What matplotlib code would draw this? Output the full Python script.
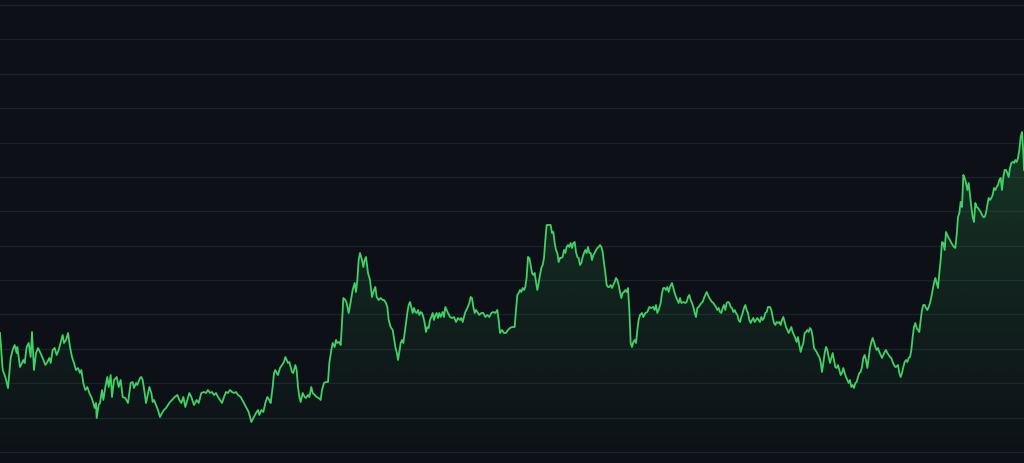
import numpy as np
import matplotlib
matplotlib.use("Agg")
import matplotlib.pyplot as plt
from matplotlib.patches import Polygon

days = [
    0, 4, 8, 12, 16, 19, 22, 25, 26, 28, 30, 33, 35, 37, 40, 43, 46, 48, 51, 54,
    57, 60, 64, 68, 71, 74, 76, 79, 82, 85, 88, 92, 94, 96, 99, 102, 105, 108, 111, 114,
    117, 120, 122, 125, 128, 131, 134, 137, 140, 142, 144, 145, 148, 150, 153, 155, 158, 161, 163, 166,
    168, 171, 175, 178, 181, 184, 188,
    192, 196, 199, 201, 204, 206, 210, 212, 214, 217, 219, 221, 224, 227, 229, 231, 234, 237, 240, 243,
    246, 249, 252, 255, 258, 262, 266, 269, 272, 275, 278, 281, 284, 287, 291, 295, 298, 302, 306, 309,
    312, 315, 318, 321, 324, 327, 330, 333, 336, 339, 342, 345, 348, 351, 354, 357, 361, 365, 369, 373,
    377, 380,
    384, 387, 389, 392, 395, 398, 401, 404, 406, 409, 411, 413, 415, 417, 420, 423, 426, 428, 430, 432,
    434, 436, 438, 440, 443, 445, 447, 449, 451, 454, 457, 459, 462, 464, 467, 469, 472, 475, 478, 481,
    483, 486, 489, 492, 494, 497, 499, 502, 504, 506, 509, 511, 513, 515, 518, 520, 523, 526, 529, 532,
    534, 536, 538, 540, 543, 545, 547, 549, 552, 555, 558, 561, 563, 565, 568, 571, 574,
    576, 579, 581, 583, 586, 589, 591, 593, 595, 597, 599, 601, 603, 605, 607, 609, 611, 613, 615, 617,
    619, 621, 623, 625, 627, 629, 631, 633, 635, 637, 639, 641, 643, 645, 647, 649, 651, 653, 655, 657,
    659, 661, 664, 666, 668, 670, 672, 675, 678, 681, 684, 687, 690, 692, 694, 696, 698, 701, 704, 706,
    708, 710, 712, 714, 716, 719, 722, 725, 728, 731, 734, 737, 740, 743, 746, 748, 750, 753, 756, 759,
    762, 765,
    768, 772, 774, 776, 778, 780, 782, 784, 786, 788, 790, 792, 794, 796, 798, 800, 802, 804, 806, 808,
    810, 812, 814, 816, 818, 820, 823, 826, 828, 830, 832, 834, 836, 838, 840, 842, 844, 846, 848, 850,
    852, 854, 856, 858, 860, 862, 864, 866, 868, 870, 872, 874, 876, 878, 880, 882, 884, 886, 888, 890,
    892, 894, 896, 898, 900, 902, 904, 906, 908, 910, 912, 914, 916, 918, 920, 922, 924, 926, 928, 930,
    932, 934, 936, 938, 940, 942, 944, 946, 948, 950, 952, 954, 956, 958,
    960, 963, 965, 968, 971, 974, 977, 980, 982, 984, 986, 988, 991, 993, 995, 997, 999, 1001, 1003, 1005,
    1008, 1010, 1012, 1014, 1016, 1018, 1020, 1022, 1025, 1028, 1030, 1032, 1034, 1036, 1038, 1040, 1042, 1044, 1046, 1048,
    1050, 1052, 1054, 1056, 1058, 1060, 1062, 1064, 1066, 1068, 1070, 1072, 1074, 1076, 1078, 1080, 1082, 1084, 1086, 1088,
    1090, 1092, 1094, 1096, 1098, 1100, 1102, 1104, 1106, 1108, 1110, 1112, 1114, 1116, 1118, 1120, 1122, 1124, 1126, 1128,
    1130, 1132, 1134, 1136, 1138, 1140, 1142, 1144, 1146, 1148, 1150,
    1152, 1155, 1157, 1159, 1161, 1163, 1165, 1167, 1169, 1171, 1173, 1175, 1177, 1179, 1181, 1183, 1185, 1187, 1189, 1191,
    1193, 1195, 1197, 1199, 1201, 1203, 1205, 1207, 1209, 1211, 1213, 1215, 1217, 1219, 1221, 1223, 1225, 1227, 1229, 1231,
    1233, 1235, 1237, 1239, 1241, 1243, 1245, 1247, 1249, 1251, 1253, 1255, 1257, 1259, 1261, 1263, 1265, 1267, 1269, 1271,
    1273, 1275, 1277, 1279, 1281, 1283, 1285, 1287, 1289, 1291, 1293, 1295, 1297, 1299, 1301, 1303, 1305, 1307, 1309, 1311,
    1313, 1315, 1317, 1319, 1321, 1323, 1325, 1327, 1329, 1331, 1333, 1335, 1337, 1339, 1341, 1343,
    1344, 1347, 1349, 1351, 1353, 1355, 1357, 1359, 1361, 1363, 1365, 1367, 1369, 1371, 1373, 1375, 1377, 1379, 1381, 1383,
    1385, 1387, 1389, 1391, 1393, 1395, 1397, 1399, 1401, 1403, 1405, 1407, 1409, 1411, 1413, 1415, 1417, 1419, 1421, 1423,
    1425, 1427, 1429, 1431, 1433, 1435, 1437, 1439, 1441, 1443, 1445, 1447, 1449, 1451, 1453, 1455, 1457, 1459, 1461, 1463,
    1465, 1467, 1469, 1471, 1473, 1475, 1477, 1479, 1481, 1483, 1485, 1487, 1489, 1491, 1493, 1495, 1497, 1499, 1501, 1503,
    1505, 1507, 1509, 1511, 1513, 1515, 1517, 1519, 1521, 1523, 1525, 1527, 1529, 1531, 1533, 1535, 1536,
]

levels = [
    130, 93, 86, 75, 105, 113, 118, 110, 116, 106, 96, 100, 103, 100, 116, 120, 106, 131, 93, 110,
    115, 111, 105, 98, 101, 105, 100, 113, 115, 108, 113, 123, 128, 120, 123, 130, 116, 106, 100, 93,
    95, 90, 93, 80, 73, 76, 70, 66, 60, 55, 60, 45, 58, 60, 73, 63, 76, 86, 76, 88,
    66, 83, 86, 76, 83, 66, 65,
    60, 80, 81, 75, 80, 78, 85, 86, 83, 70, 60, 66, 76, 70, 61, 63, 58, 53, 46, 50,
    53, 55, 58, 61, 63, 66, 68, 63, 60, 66, 56, 63, 70, 66, 58, 63, 60, 70, 71, 70,
    73, 70, 71, 68, 70, 66, 63, 60, 66, 71, 70, 73, 71, 70, 71, 68, 66, 61, 56, 51,
    41, 45,
    50, 53, 48, 53, 51, 60, 66, 63, 60, 76, 90, 93, 90, 88, 95, 98, 101, 106, 103, 100,
    101, 96, 91, 90, 98, 93, 76, 66, 61, 70, 66, 65, 68, 66, 76, 70, 68, 66, 65, 63,
    73, 80, 81, 81, 100, 113, 120, 116, 123, 120, 121, 118, 140, 165, 163, 160, 150, 161, 173, 180,
    171, 183, 203, 210, 203, 196, 203, 206, 190, 183, 166, 173, 176, 166, 163, 165, 163,
    163, 160, 156, 143, 136, 133, 125, 116, 111, 103, 111, 120, 123, 120, 130, 140, 150, 158, 161, 156,
    150, 155, 151, 150, 153, 148, 151, 150, 146, 140, 131, 136, 135, 143, 146, 150, 143, 148, 150, 145,
    150, 146, 151, 146, 156, 153, 150, 146, 145, 146, 141, 145, 143, 145, 141, 146, 151, 155, 160, 166,
    165, 156, 150, 153, 151, 148, 150, 150, 146, 148, 146, 150, 151, 150, 153, 143, 130, 133, 130, 130,
    133, 135,
    136, 136, 153, 168, 170, 173, 171, 175, 173, 176, 186, 206, 205, 198, 190, 188, 190, 181, 173, 180,
    188, 195, 198, 205, 223, 238, 238, 238, 230, 231, 220, 213, 210, 201, 205, 205, 206, 213, 210, 216,
    218, 216, 220, 215, 220, 221, 211, 206, 205, 198, 200, 206, 210, 213, 210, 216, 210, 210, 203, 208,
    210, 213, 215, 216, 218, 216, 211, 200, 190, 178, 176, 176, 178, 175, 178, 181, 185, 183, 178, 171,
    165, 170, 171, 173, 171, 175, 153, 120, 116, 121, 123, 120, 133, 143,
    148, 150, 146, 150, 151, 156, 155, 156, 153, 158, 150, 153, 160, 170, 175, 175, 173, 176, 171, 176,
    180, 175, 170, 166, 163, 160, 165, 160, 161, 160, 161, 166, 168, 163, 160, 156, 150, 146, 155, 156,
    158, 160, 161, 165, 168, 171, 168, 165, 163, 161, 160, 158, 156, 153, 155, 151, 150, 155, 158, 153,
    160, 161, 160, 156, 155, 151, 153, 150, 148, 143, 141, 146, 150, 155, 158, 153, 150, 143, 140, 143,
    145, 141, 143, 145, 143, 141, 146, 143, 145, 150, 151,
    156, 156, 153, 146, 140, 138, 141, 140, 141, 138, 143, 146, 141, 136, 133, 130, 133, 136, 131, 128,
    125, 121, 126, 118, 111, 116, 120, 130, 131, 133, 131, 135, 133, 126, 115, 113, 111, 108, 106, 101,
    91, 100, 110, 116, 113, 106, 100, 105, 110, 103, 96, 95, 98, 93, 88, 90, 95, 90, 86, 83,
    80, 83, 76, 78, 75, 80, 81, 86, 90, 91, 96, 105, 108, 103, 95, 105, 115, 121, 125, 121,
    116, 113, 115, 111, 108, 105, 108, 111, 113, 110, 108, 106, 105, 101, 98, 96,
    96, 98, 90, 86, 90, 96, 101, 103, 101, 105, 106, 113, 126, 136, 140, 135, 133, 131, 143, 153,
    158, 158, 155, 153, 156, 160, 166, 173, 180, 185, 180, 175, 190, 203, 221, 220, 213, 231, 228, 225,
    223, 220, 218, 216, 215, 228, 246, 250, 261, 256, 288, 285, 280, 273, 280, 268, 256, 246, 241, 260,
    256, 255, 253, 251, 248, 246, 246, 250, 258, 265, 263, 265, 268, 275, 273, 276, 278, 283, 285, 273,
    286, 293, 293, 290, 286, 295, 300, 301, 300, 303, 301, 305, 313, 326, 331, 310, 293,
]

grid_levels = np.linspace(11, 458, 14)

bg = "#0d1117"
green = "#3fd164"

fig = plt.figure(figsize=(10.24, 4.63), dpi=100, facecolor=bg)
ax = fig.add_axes([0, 0, 1, 1])
ax.set_facecolor(bg)
ax.set_xlim(days[0], days[-1])
ax.set_ylim(0, 463)

# faint horizontal grid, no ticks or labels
ax.set_yticks(grid_levels)
ax.set_xticks([])
ax.tick_params(left=False, labelleft=False, bottom=False, labelbottom=False)
ax.grid(axis="y", color="#1c222b", linewidth=0.9)
ax.set_axisbelow(True)
for s in ax.spines.values():
    s.set_visible(False)

# gradient area under the line
x = np.array(days, dtype=float)
y = np.array(levels, dtype=float)
verts = np.column_stack([np.r_[x[0], x, x[-1]], np.r_[0, y, 0]])
area = Polygon(verts, closed=True, facecolor="none", edgecolor="none")
ax.add_patch(area)

rgb = matplotlib.colors.to_rgb(green)
grad = np.zeros((256, 1, 4))
grad[:, 0, :3] = rgb
grad[:, 0, 3] = np.linspace(0.0, 0.32, 256) ** 1.1
img = ax.imshow(grad, extent=[x[0], x[-1], 0, 463], origin="lower",
                aspect="auto", zorder=1, interpolation="bilinear")
img.set_clip_path(area)

ax.plot(x, y, color=green, linewidth=1.3, zorder=3, solid_joinstyle="round")

fig.savefig("out.png", dpi=100, facecolor=bg)
